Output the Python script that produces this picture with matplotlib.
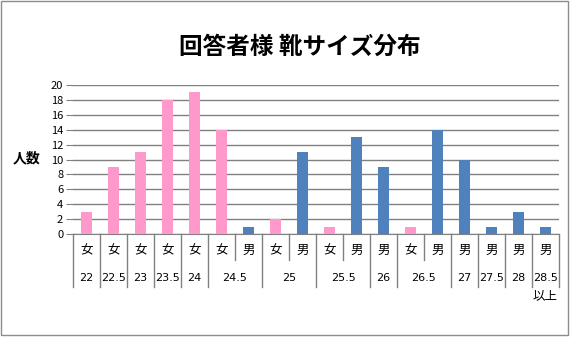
import matplotlib.pyplot as plt
from matplotlib.patches import Rectangle
from matplotlib.transforms import blended_transform_factory

plt.rcParams['font.family'] = ['Noto Sans CJK JP', 'DejaVu Sans']

# データ
sexes = ['女', '女', '女', '女', '女', '女', '男', '女', '男', '女', '男', '男', '女', '男', '男', '男', '男', '男']
sizes = ['22', '22.5', '23', '23.5', '24', '24.5', '24.5', '25', '25', '25.5', '25.5', '26',
         '26.5', '26.5', '27', '27.5', '28', '28.5\n以上']
counts = [3, 9, 11, 18, 19, 14, 1, 2, 11, 1, 13, 9, 1, 14, 10, 1, 3, 1]
colors = {'女': '#FF99CC', '男': '#4F81BD'}

W, H = 573, 338
fig = plt.figure(figsize=(W / 100, H / 100), dpi=100)
fig.patches.append(Rectangle((0.5 / W, 3 / H), 567 / W, 334.5 / H, transform=fig.transFigure,
                             fill=False, edgecolor='#8c8c8c', linewidth=1))

ax = fig.add_axes([73 / W, (H - 234) / H, 486 / W, 149 / H])
x = list(range(len(counts)))
ax.bar(x, counts, width=0.38, color=[colors[s] for s in sexes], zorder=3)

ax.set_xlim(-0.5, len(counts) - 0.5)
ax.set_ylim(0, 20)
ax.set_yticks(range(0, 21, 2))
ax.yaxis.grid(True, color='#808080', linewidth=1)
ax.tick_params(axis='y', length=5, color='#808080', labelsize=8, pad=2)
ax.set_xticks([])
for sp in ['left', 'right', 'top']:
    ax.spines[sp].set_visible(False)
ax.spines['bottom'].set_color('#808080')

fig.text(27 / W, 1 - 158 / H, '人数', fontsize=10, fontweight='bold', ha='center', va='center')
fig.text(300 / W, 1 - 47 / H, '回答者様 靴サイズ分布', fontsize=17, fontweight='bold',
         ha='center', va='center')

# 2段の項目ラベル
tr = blended_transform_factory(ax.transData, ax.transAxes)
for i, s in enumerate(sexes):
    ax.text(i, -0.11, s, transform=tr, ha='center', va='center', fontsize=9)

start = 0
for i in range(len(sizes) + 1):
    end_group = i == len(sizes) or (i > 0 and sizes[i] != sizes[i - 1])
    if i == 0 or end_group:
        y0 = -0.357
        if i > 0:
            lines = sizes[i - 1].split('\n')
            xc = (start + i - 1) / 2
            ax.text(xc, -0.295, lines[0], transform=tr, ha='center', va='center',
                    fontsize=8, family=['DejaVu Sans'])
            if len(lines) > 1:
                ax.text(xc, -0.415, lines[1], transform=tr, ha='center', va='center', fontsize=9)
            start = i
    else:
        y0 = -0.175
    ax.plot([i - 0.5, i - 0.5], [0, y0], transform=tr, color='#808080', linewidth=1, clip_on=False)

fig.savefig('out.png', dpi=100)
